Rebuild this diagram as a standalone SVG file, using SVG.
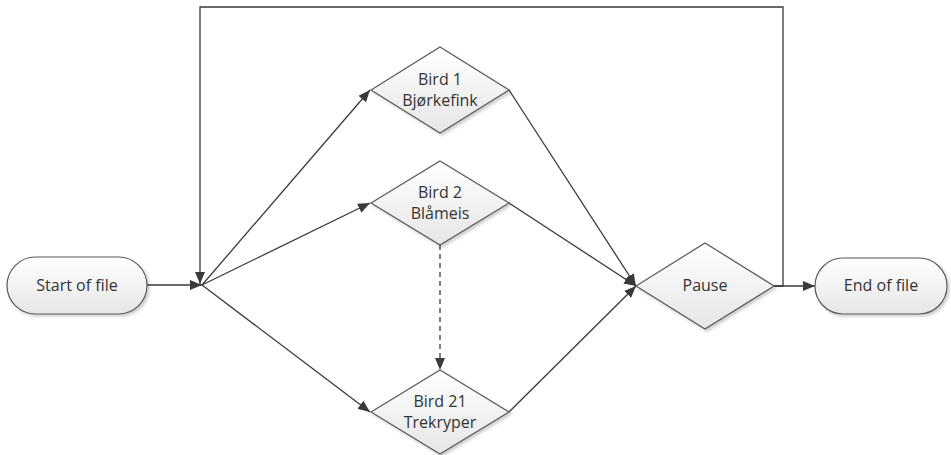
<svg xmlns="http://www.w3.org/2000/svg" width="951" height="455" viewBox="0 0 951 455">
<defs>
<linearGradient id="g" x1="0" y1="0" x2="0" y2="1">
<stop offset="0" stop-color="#ffffff"/>
<stop offset="1" stop-color="#e6e6e6"/>
</linearGradient>
<filter id="sh" x="-20%" y="-20%" width="150%" height="150%">
<feDropShadow dx="2" dy="2" stdDeviation="1.5" flood-color="#000" flood-opacity="0.2"/>
</filter>
<marker id="ah" viewBox="0 0 12 10" refX="12" refY="5" markerWidth="12" markerHeight="10" markerUnits="userSpaceOnUse" orient="auto">
<path d="M0,0 L12,5 L0,10 z" fill="#3a3a3a"/>
</marker>
</defs>
<style>
.n{fill:url(#g);stroke:#595959;stroke-width:1.2;filter:url(#sh)}
.t{font-family:"Open Sans","Liberation Sans",sans-serif;font-size:16px;fill:#333;text-anchor:middle}
.c{fill:none;stroke:#3a3a3a;stroke-width:1.3}
</style>
<rect width="951" height="455" fill="#fff"/>
<g id="connectors">
<line class="c" x1="147" y1="285" x2="202" y2="285" marker-end="url(#ah)"/>
<line class="c" x1="202" y1="285" x2="370" y2="90" marker-end="url(#ah)"/>
<line class="c" x1="202" y1="285" x2="370" y2="203" marker-end="url(#ah)"/>
<line class="c" x1="202" y1="285" x2="370" y2="412" marker-end="url(#ah)"/>
<line class="c" x1="509" y1="90" x2="636" y2="286" marker-end="url(#ah)"/>
<line class="c" x1="509" y1="203" x2="636" y2="286" marker-end="url(#ah)"/>
<line class="c" x1="509" y1="412" x2="636" y2="286" marker-end="url(#ah)"/>
<line class="c" x1="440" y1="245" x2="440" y2="370" stroke-dasharray="5,4" marker-end="url(#ah)"/>
<polyline class="c" points="774,286 783,286 783,7 200,7 200,284" marker-end="url(#ah)"/>
<line class="c" x1="774" y1="286" x2="815" y2="286" marker-end="url(#ah)"/>
</g>
<g id="start">
<rect class="n" x="7" y="257" width="140" height="57" rx="28.5"/>
<text class="t" x="77" y="291">Start of file</text>
</g>
<g id="bird1">
<polygon class="n" points="440,47 509,90 440,133 371,90"/>
<text class="t" x="440" y="85">Bird 1</text>
<text class="t" x="440" y="106">Bjørkefink</text>
</g>
<g id="bird2">
<polygon class="n" points="440,161 509,203 440,245 371,203"/>
<text class="t" x="440" y="198">Bird 2</text>
<text class="t" x="440" y="219">Blåmeis</text>
</g>
<g id="bird21">
<polygon class="n" points="440,370 509,412 440,454 371,412"/>
<text class="t" x="440" y="407">Bird 21</text>
<text class="t" x="440" y="428">Trekryper</text>
</g>
<g id="pause">
<polygon class="n" points="705,243 774,286 705,329 636,286"/>
<text class="t" x="705" y="291">Pause</text>
</g>
<g id="end">
<rect class="n" x="815" y="258" width="132" height="56" rx="28"/>
<text class="t" x="881" y="291">End of file</text>
</g>
</svg>
